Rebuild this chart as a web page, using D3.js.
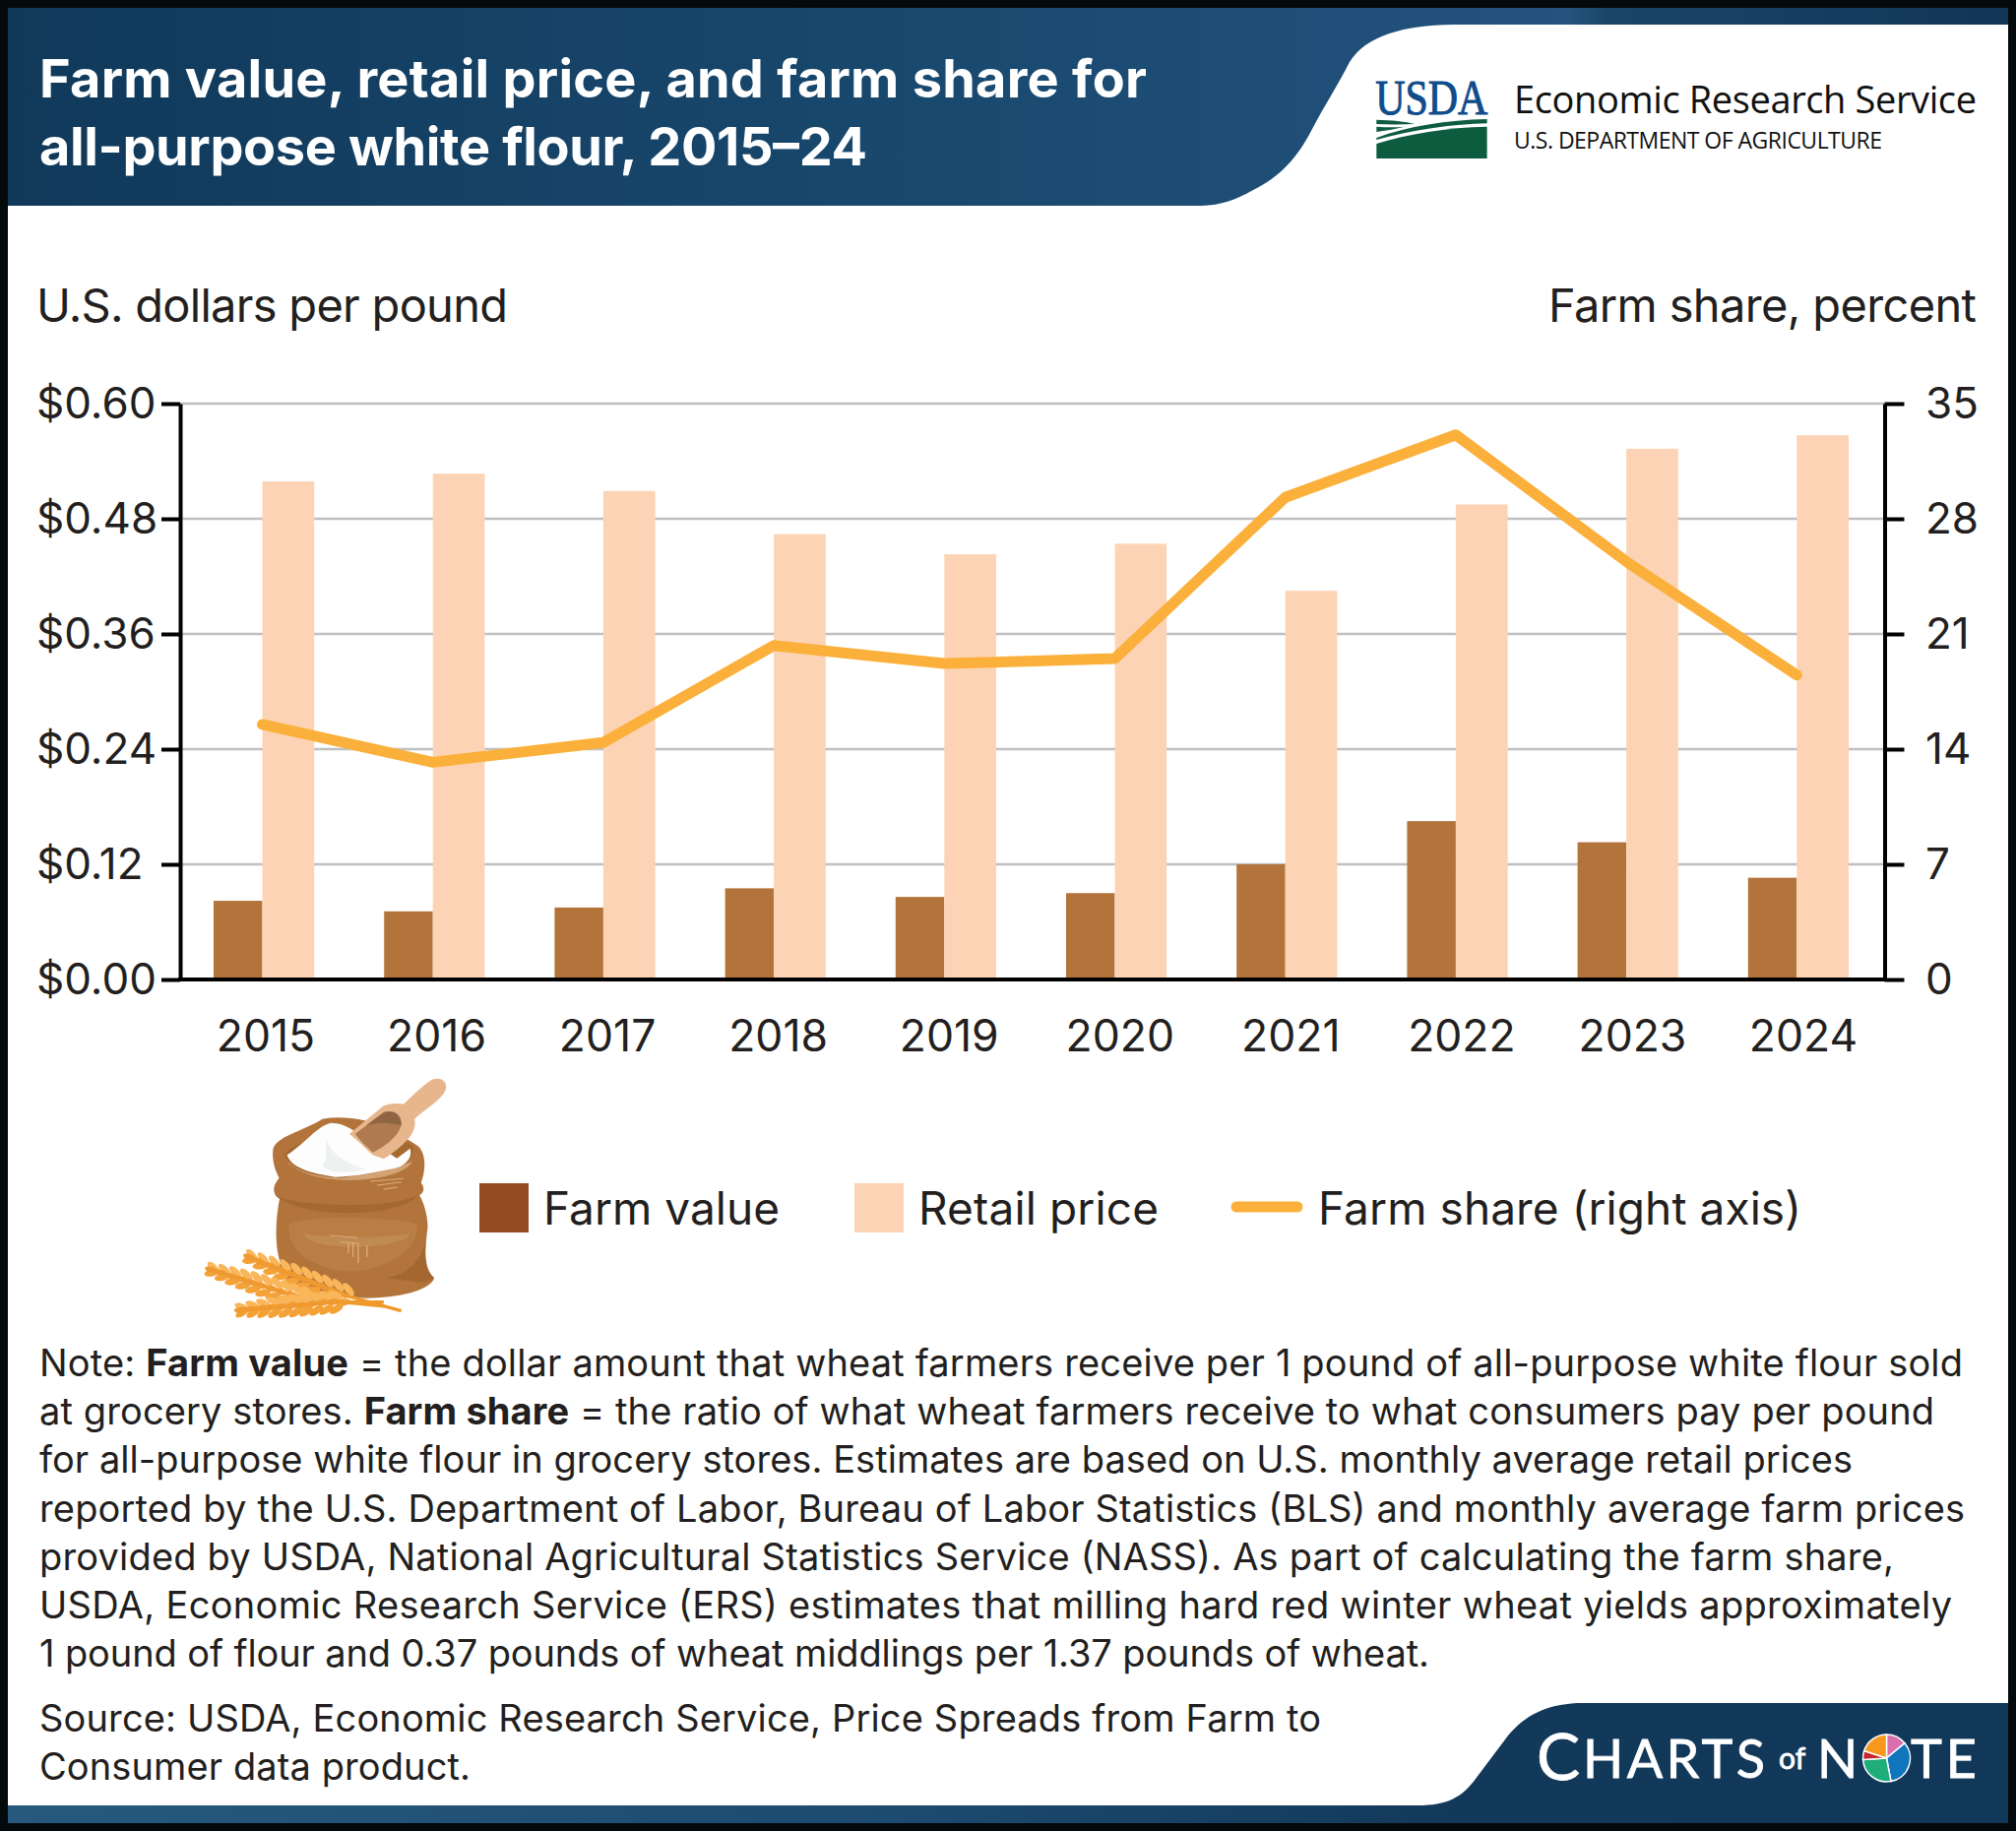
<!DOCTYPE html>
<html lang="en">
<head>
<meta charset="utf-8">
<title>Farm value, retail price, and farm share for all-purpose white flour, 2015-24</title>
<script src="https://cdn.jsdelivr.net/npm/d3@7"></script>
<style>
  html, body { margin: 0; padding: 0; background: #040a0c; }
  svg { display: block; font-family: Inter, "Open Sans", sans-serif; }
</style>
</head>
<body>
<div id="grafico"></div>
<script>
// ==================== DATA ====================
const years = ["2015", "2016", "2017", "2018", "2019", "2020", "2021", "2022", "2023", "2024"];
const farmValue = [0.082, 0.071, 0.075, 0.095, 0.086, 0.090, 0.120, 0.165, 0.143, 0.106];
const retailPrice = [0.519, 0.527, 0.509, 0.464, 0.443, 0.454, 0.405, 0.495, 0.553, 0.567];
const farmShare = [15.5, 13.2, 14.4, 20.3, 19.2, 19.5, 29.3, 33.1, 25.4, 18.5];

const leftTicks = [0, 0.12, 0.24, 0.36, 0.48, 0.60];
const rightTicks = [0, 7, 14, 21, 28, 35];

const titleLines = ["Farm value, retail price, and farm share for", "all-purpose white flour, 2015–24"];
const titleWidths = [1125, 841];

// ** marks the bold runs
const noteLines = [
  "Note: **Farm value** = the dollar amount that wheat farmers receive per 1 pound of all-purpose white flour sold",
  "at grocery stores. **Farm share** = the ratio of what wheat farmers receive to what consumers pay per pound",
  "for all-purpose white flour in grocery stores. Estimates are based on U.S. monthly average retail prices",
  "reported by the U.S. Department of Labor, Bureau of Labor Statistics (BLS) and monthly average farm prices",
  "provided by USDA, National Agricultural Statistics Service (NASS). As part of calculating the farm share,",
  "USDA, Economic Research Service (ERS) estimates that milling hard red winter wheat yields approximately",
  "1 pound of flour and 0.37 pounds of wheat middlings per 1.37 pounds of wheat."
];
const noteWidths = [1954, 1925, 1842, 1956, 1884, 1943, 1412];
const sourceLines = ["Source: USDA, Economic Research Service, Price Spreads from Farm to", "Consumer data product."];
const sourceWidths = [1302, 438];

const logoSlices = [14, 33, 27, 6, 20];
const logoColors = ["#d96fae", "#0f75bc", "#1fae7b", "#c4252f", "#f7991f"];

// ==================== SIZES AND SCALES ====================
const width = 2048;
const height = 1860;
const marginTop = 410;
const marginBottom = 995;
const marginLeft = 183;
const marginRight = 1914.5;
const farmWidth = 49.5;
const ink = "#231f20";
const farmColor = "#b3743c";
const retailColor = "#fcd4b5";
const lineColor = "#fbb03b";

const x = d3.scaleBand().domain(years).range([181.5, 1913.5]).paddingInner(0.41).paddingOuter(0.205);
const xLabel = d3.scalePoint().domain(years).range([270, 1832]);
const yLeft = d3.scaleLinear().domain([0, 0.6]).range([marginBottom, marginTop]);
const yRight = d3.scaleLinear().domain([0, 35]).range([marginBottom, marginTop]);

const svg = d3.select("#grafico").append("svg")
  .attr("width", width)
  .attr("height", height)
  .attr("viewBox", [0, 0, width, height]);

const defs = svg.append("defs");

function addGradient(id, stops) {
  const g = defs.append("linearGradient").attr("id", id);
  stops.forEach(s => g.append("stop").attr("offset", s[0]).attr("stop-color", s[1]));
}
addGradient("headerFill", [[0, "#10395a"], [0.5, "#1a4a70"], [0.78, "#23537e"], [0.8, "#1a4568"], [1, "#113557"]]);
addGradient("footerFill", [[0, "#27597f"], [0.45, "#1c4a70"], [0.72, "#13395a"], [1, "#113759"]]);

// ==================== FRAME ====================
svg.append("rect").attr("x", 8).attr("y", 8).attr("width", 2032).attr("height", 1844).attr("fill", "#fff");

svg.append("path")
  .attr("fill", "url(#headerFill)")
  .attr("d", "M8,8 H2040 V25 H1476 C1425,26 1388,36 1371,63 C1360,85 1345,108 1332,133 C1318,160 1300,180 1273,193 C1258,202 1240,209 1221,209 H8 Z");

svg.append("path")
  .attr("fill", "url(#footerFill)")
  .attr("d", "M8,1852 H2040 V1730 H1602 C1570,1732 1550,1742 1532,1763 L1499,1807 C1485,1826 1470,1834 1440,1834 H8 Z");

svg.selectAll(".titulo").data(titleLines).join("text")
  .attr("class", "titulo")
  .attr("x", 40)
  .attr("y", (d, i) => 99 + i * 69)
  .attr("fill", "#fff")
  .attr("font-size", 54)
  .attr("font-weight", 700)
  .attr("textLength", (d, i) => titleWidths[i])
  .text(d => d);

// ==================== USDA MARK ====================
const usda = svg.append("g").attr("transform", "translate(1380,60) scale(0.3333)");
usda.append("text")
  .attr("x", 52).attr("y", 168)
  .attr("font-family", "'Liberation Serif', serif")
  .attr("font-size", 150)
  .attr("fill", "#0f4c8a")
  .attr("stroke", "#0f4c8a")
  .attr("stroke-width", 3)
  .attr("textLength", 342)
  .attr("lengthAdjust", "spacingAndGlyphs")
  .text("USDA");
usda.append("path").attr("fill", "#0d5c3f")
  .attr("d", "M55,258 C150,228 270,208 392,206 V303 H55 Z");
usda.append("path").attr("fill", "#0d5c3f")
  .attr("d", "M392,183 V196 C290,198 170,215 55,246 V240 C150,205 270,186 392,183 Z");
usda.append("path").attr("fill", "#0d5c3f")
  .attr("d", "M55,185 C100,186 145,190 172,198 C130,200 90,200 55,198 Z");
usda.append("path").attr("fill", "#0d5c3f")
  .attr("d", "M55,206 C85,208 115,208 140,206 C110,214 80,218 55,222 Z");

svg.append("text").attr("x", 1538).attr("y", 115)
  .attr("font-family", "'Open Sans', sans-serif").attr("font-size", 38).attr("fill", "#111")
  .attr("textLength", 470).text("Economic Research Service");
svg.append("text").attr("x", 1538).attr("y", 151)
  .attr("font-family", "'Open Sans', sans-serif").attr("font-size", 23).attr("fill", "#111")
  .attr("textLength", 374).text("U.S. DEPARTMENT OF AGRICULTURE");

// ==================== AXIS TITLES ====================
svg.append("text").attr("x", 37).attr("y", 327)
  .attr("font-size", 47).attr("fill", ink).attr("textLength", 479)
  .text("U.S. dollars per pound");
svg.append("text").attr("x", 1573).attr("y", 327)
  .attr("font-size", 47).attr("fill", ink).attr("textLength", 435)
  .text("Farm share, percent");

// ==================== GRID ====================
svg.append("g").selectAll("line").data(leftTicks.slice(1)).join("line")
  .attr("x1", marginLeft)
  .attr("x2", marginRight)
  .attr("y1", d => yLeft(d))
  .attr("y2", d => yLeft(d))
  .attr("stroke", "#c0c0c0")
  .attr("stroke-width", 2.5);

// ==================== BARS ====================
svg.append("g").selectAll("rect").data(years).join("rect")
  .attr("x", d => x(d))
  .attr("y", (d, i) => yLeft(farmValue[i]))
  .attr("width", farmWidth)
  .attr("height", (d, i) => yLeft(0) - yLeft(farmValue[i]))
  .attr("fill", farmColor);

svg.append("g").selectAll("rect").data(years).join("rect")
  .attr("x", d => x(d) + farmWidth)
  .attr("y", (d, i) => yLeft(retailPrice[i]))
  .attr("width", x.bandwidth() - farmWidth)
  .attr("height", (d, i) => yLeft(0) - yLeft(retailPrice[i]))
  .attr("fill", retailColor);

// ==================== LINE ====================
const shareLine = d3.line()
  .x((d, i) => x(years[i]) + farmWidth)
  .y(d => yRight(d));

svg.append("path")
  .attr("d", shareLine(farmShare))
  .attr("fill", "none")
  .attr("stroke", lineColor)
  .attr("stroke-width", 11)
  .attr("stroke-linecap", "round")
  .attr("stroke-linejoin", "round");

// ==================== AXES ====================
function styleAxis(g, labelX) {
  g.selectAll("path").attr("stroke", "#000").attr("stroke-width", 4);
  g.selectAll("line").attr("stroke", "#000").attr("stroke-width", 4);
  g.selectAll("text")
    .attr("x", labelX)
    .attr("dy", "0.34em")
    .attr("text-anchor", "start")
    .attr("fill", ink)
    .attr("font-size", 44)
    .attr("font-family", "Inter, sans-serif");
}

svg.append("g")
  .attr("transform", `translate(${marginLeft},0)`)
  .call(d3.axisLeft(yLeft).tickValues(leftTicks).tickFormat(d3.format("$.2f")).tickSize(19).tickSizeOuter(0))
  .call(g => styleAxis(g, 37 - marginLeft));

svg.append("g")
  .attr("transform", `translate(${marginRight},0)`)
  .call(d3.axisRight(yRight).tickValues(rightTicks).tickSize(20).tickSizeOuter(0))
  .call(g => styleAxis(g, 1956 - marginRight));

svg.append("line")
  .attr("x1", marginLeft - 2).attr("x2", marginRight + 2)
  .attr("y1", yLeft(0)).attr("y2", yLeft(0))
  .attr("stroke", "#000").attr("stroke-width", 4);

svg.append("g").selectAll("text").data(years).join("text")
  .attr("x", d => xLabel(d))
  .attr("y", 1068)
  .attr("text-anchor", "middle")
  .attr("fill", ink)
  .attr("font-size", 44.5)
  .text(d => d);

// ==================== FLOUR SACK ILLUSTRATION ====================
// coordinates follow a 2.24 x 3 enlarged drawing of the artwork
const sack = svg.append("g").attr("transform", "translate(180,1080) scale(0.4464,0.3333)");

sack.append("path").attr("fill", "#b3743c")
  .attr("d", "M235,400 C222,480 222,560 235,610 C200,660 330,712 430,716 C500,716 575,695 585,655 C558,620 565,560 570,500 C570,460 560,420 550,400 Z");
sack.append("path").attr("fill", "#ba7d43")
  .attr("d", "M255,490 C300,460 500,470 545,490 C555,560 480,635 390,635 C310,630 245,570 255,490 Z");
sack.append("path").attr("fill", "#c08b52")
  .attr("d", "M288,520 C350,535 460,535 530,520 C520,550 440,560 400,560 C350,560 295,550 288,520 Z");
sack.append("path").attr("fill", "#a3672f")
  .attr("d", "M478,655 C530,640 555,600 566,540 C562,600 565,630 585,655 C560,680 520,660 478,655 Z");
sack.append("path").attr("fill", "#b3743c")
  .attr("d", "M218,265 C220,225 290,205 330,170 C380,158 430,172 480,195 L545,250 C568,270 566,330 555,365 C566,382 560,398 548,405 C500,470 290,470 225,405 C216,385 220,370 232,350 C220,320 216,290 218,265 Z");
sack.append("path").attr("fill", "#a5692f")
  .attr("d", "M225,405 C290,440 500,445 548,400 C520,470 290,480 225,405 Z");
sack.append("path").attr("fill", "#d2a373")
  .attr("d", "M250,300 C300,345 450,345 535,300 C510,365 310,385 250,300 Z");
sack.append("path").attr("fill", "#a5692f")
  .attr("d", "M245,275 C295,200 490,200 538,255 C543,290 510,330 370,350 C310,345 250,325 245,275 Z");
sack.append("path").attr("fill", "#fdfdfd")
  .attr("d", "M250,280 C290,245 320,190 350,182 C385,182 410,215 450,245 L500,290 L530,260 C538,295 510,318 490,322 C430,340 390,347 360,347 C310,337 260,322 250,280 Z");
sack.append("path").attr("fill", "#eef1f2")
  .attr("d", "M340,230 C350,280 390,310 430,322 C390,338 350,338 330,312 C345,290 335,260 340,230 Z");

// scoop
sack.append("path").attr("fill", "#e8b68c")
  .attr("d", "M392,215 L470,130 C485,122 505,122 515,125 C535,100 565,60 580,50 C600,40 618,55 610,85 C598,115 565,140 540,170 C545,200 535,235 470,292 L445,280 C430,260 410,235 392,215 Z");
sack.append("path").attr("fill", "#b07a50")
  .attr("d", "M405,215 L470,150 C490,140 510,155 510,180 C512,210 480,250 445,272 C432,255 415,235 405,215 Z");
sack.append("path").attr("fill", "#8f6644")
  .attr("d", "M430,190 L470,150 C490,140 510,155 510,190 C480,180 455,180 430,190 Z");

// stitching marks
sack.append("path").attr("fill", "none").attr("stroke", "#d9ae80").attr("stroke-width", 3)
  .attr("d", "M348,525 L410,532 M372,545 L410,548 M390,548 V578 M400,548 V590 M412,548 V610 M432,555 V590 M440,360 L515,352 M455,372 L510,362 M470,384 L500,378");

// wheat ears, positions in page pixels converted from the enlarged drawing
const artX = v => 180 + v / 2.24;
const artY = v => 1080 + v / 3;
const wheat = svg.append("g");
const ears = [
  { from: [165, 592], to: [378, 706], stalk: [510, 755] },
  { from: [78, 630], to: [285, 716], stalk: [470, 740] },
  { from: [145, 752], to: [355, 728], stalk: [470, 728] }
];
ears.forEach(e => {
  const x0 = artX(e.from[0]), y0 = artY(e.from[1]);
  const x1 = artX(e.to[0]), y1 = artY(e.to[1]);
  wheat.append("line")
    .attr("x1", x1).attr("y1", y1)
    .attr("x2", artX(e.stalk[0])).attr("y2", artY(e.stalk[1]))
    .attr("stroke", "#ee9a2c").attr("stroke-width", 3.5);
  const angle = Math.atan2(y1 - y0, x1 - x0) * 180 / Math.PI;
  const spread = t => 2 + 6 * Math.sin(Math.min(1, t * 1.4 + 0.1) * Math.PI / 2);
  d3.range(0, 1.001, 0.11).forEach(t => {
    const cx = x0 + (x1 - x0) * t;
    const cy = y0 + (y1 - y0) * t;
    [-1, 1].forEach(side => {
      wheat.append("ellipse")
        .attr("cx", 0).attr("cy", side * spread(t))
        .attr("rx", 8).attr("ry", 3.6)
        .attr("transform", `translate(${cx},${cy}) rotate(${angle - side * 28})`)
        .attr("fill", side > 0 ? "#f4a238" : "#f9b65a");
    });
    wheat.append("ellipse")
      .attr("cx", 0).attr("cy", 0)
      .attr("rx", 7).attr("ry", 3)
      .attr("transform", `translate(${cx},${cy}) rotate(${angle})`)
      .attr("fill", "#ef9a30");
  });
});

// ==================== LEGEND ====================
svg.append("rect").attr("x", 487).attr("y", 1202).attr("width", 50).attr("height", 50).attr("fill", "#964b22");
svg.append("rect").attr("x", 868).attr("y", 1202).attr("width", 50).attr("height", 50).attr("fill", retailColor);
svg.append("line").attr("x1", 1256).attr("x2", 1318).attr("y1", 1226).attr("y2", 1226)
  .attr("stroke", lineColor).attr("stroke-width", 11).attr("stroke-linecap", "round");

const legendLabels = ["Farm value", "Retail price", "Farm share (right axis)"];
const legendX = [552, 933, 1339];
const legendWidths = [240, 244, 491];
svg.append("g").selectAll("text").data(legendLabels).join("text")
  .attr("x", (d, i) => legendX[i])
  .attr("y", 1244)
  .attr("fill", ink)
  .attr("font-size", 46)
  .attr("textLength", (d, i) => legendWidths[i])
  .text(d => d);

// ==================== NOTES ====================
function addRichLine(y, line, len) {
  const t = svg.append("text")
    .attr("x", 40)
    .attr("y", y)
    .attr("fill", ink)
    .attr("font-size", 38)
    .attr("textLength", len);
  line.split("**").forEach((part, i) => {
    t.append("tspan").attr("font-weight", i % 2 ? 700 : 400).text(part);
  });
}
noteLines.forEach((line, i) => addRichLine(1398 + i * 49.2, line, noteWidths[i]));
sourceLines.forEach((line, i) => addRichLine(1759 + i * 49, line, sourceWidths[i]));

// ==================== CHARTS OF NOTE MARK ====================
const brand = svg.append("g").attr("fill", "#fff").attr("stroke", "#fff").attr("stroke-width", 0.8)
  .attr("font-family", "Lato, sans-serif");
brand.append("text").attr("x", 1561).attr("y", 1808).attr("font-size", 66).text("C");
brand.append("text").attr("x", 1608).attr("y", 1806).attr("font-size", 54).attr("textLength", 185).text("HARTS");
brand.append("text").attr("x", 1807).attr("y", 1797).attr("font-size", 30).text("of");
brand.append("text").attr("x", 1846).attr("y", 1806).attr("font-size", 54).text("N");
brand.append("text").attr("x", 1941).attr("y", 1806).attr("font-size", 54).attr("textLength", 67).text("TE");

const slices = d3.pie().sort(null)(logoSlices);
const sliceArc = d3.arc().innerRadius(0).outerRadius(24);
svg.append("g").attr("transform", "translate(1916.5,1786)")
  .selectAll("path").data(slices).join("path")
  .attr("d", sliceArc)
  .attr("fill", (d, i) => logoColors[i])
  .attr("stroke", "#fff")
  .attr("stroke-width", 1.5);
</script>
</body>
</html>
